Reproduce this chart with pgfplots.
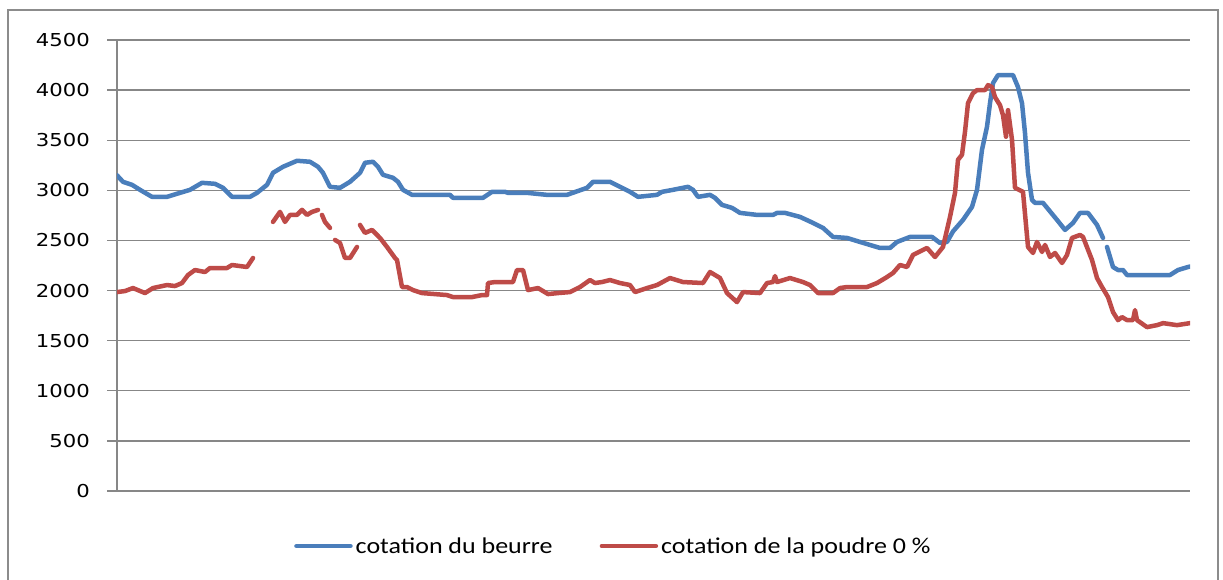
\documentclass[border=0pt]{standalone}
\usepackage{fontspec}
\usepackage{pgfplots}
\pgfplotsset{compat=1.18}
\newfontfamily\tickfont[FakeStretch=1.19]{DejaVu Sans}
\newfontfamily\legfont[FakeStretch=1.15]{Carlito}
\definecolor{beurre}{HTML}{4A7EBB}
\definecolor{poudre}{HTML}{BE4B48}
\definecolor{gridgray}{HTML}{878787}
\definecolor{framegray}{HTML}{8C8C8C}

\begin{document}
\begin{tikzpicture}[x=1pt,y=1pt]
\useasboundingbox (0,0) rectangle (1223,579);
\draw[framegray, line width=2.5pt] (8,-20) rectangle (1218,569);
\begin{axis}[
    at={(117pt,88pt)}, anchor=south west,
    scale only axis,
    width=1073pt, height=451pt,
    xmin=117, xmax=1190,
    ymin=0, ymax=4500,
    ytick={0,500,...,4500},
    xtick=\empty,
    axis x line*=bottom,
    axis y line*=left,
    axis line style={gridgray, line width=1.3pt, -},
    ymajorgrids,
    grid style={gridgray, line width=1.3pt},
    major tick length=10pt,
    tick align=outside,
    tick style={gridgray, line width=1.3pt},
    yticklabel style={font=\fontsize{17.8}{20}\tickfont, anchor=east, inner sep=0pt, xshift=-17pt},
    /pgf/number format/.cd, 1000 sep={}, assume math mode=true, /pgfplots/.cd,
    unbounded coords=jump,
    legend columns=2,
    legend style={at={(axis description cs:0.165,-0.122)}, anchor=west,
        draw=none, fill=none, inner sep=0pt,
        font=\fontsize{22.6}{26}\legfont,
        nodes={inner sep=3pt},
        /tikz/every even column/.append style={column sep=44pt}},
    legend image code/.code={\draw[#1] (0pt,0pt) -- (54pt,0pt);},
    every axis plot/.append style={line width=4.5pt, line cap=round, line join=round},
]
\addplot[beurre] coordinates {
(117,3150) (123,3085) (132,3055) (140,3005) (152,2935) (167,2935) (180,2975)
(190,3005) (202,3075) (215,3065) (223,3025) (232,2935) (250,2935) (257,2975)
(267,3055) (273,3175) (283,3235) (297,3295) (310,3285) (318,3235) (323,3175)
(330,3035) (340,3025) (350,3085) (360,3175) (365,3275) (373,3285) (378,3235)
(383,3155) (393,3125) (398,3085) (403,3005) (412,2955) (450,2955) (453,2925)
(483,2925) (492,2985) (505,2985) (508,2975) (527,2975) (547,2955) (567,2955)
(587,3025) (593,3085) (610,3085) (620,3035) (630,2985) (638,2935) (657,2955)
(662,2985) (673,3005) (688,3035) (693,3005) (698,2935) (710,2955) (715,2925)
(722,2855) (732,2825) (740,2775) (757,2755) (773,2755) (777,2775) (785,2775)
(800,2735) (813,2675) (823,2625) (833,2535) (847,2525) (860,2485) (880,2425)
(890,2425) (897,2485) (910,2535) (932,2535) (940,2475) (947,2485) (953,2590)
(963,2705) (972,2835) (977,3005) (982,3405) (987,3635) (990,3870) (993,4070)
(998,4150) (1013,4150) (1018,4030) (1022,3870) (1025,3570) (1028,3175)
(1032,2905) (1035,2875) (1043,2875) (1057,2705) (1065,2605) (1073,2675)
(1080,2775) (1088,2775) (1097,2655) (1103,2525) (1105,nan) (1107,2435)
(1113,2235) (1118,2205) (1123,2205) (1127,2155) (1170,2155) (1178,2205)
(1188,2235) (1190,2240)
};
\addlegendentry{cotation du beurre}
\addplot[poudre] coordinates {
(117,1985) (125,1995) (133,2025) (145,1975) (153,2025) (167,2055) (175,2045)
(182,2075) (188,2155) (195,2205) (205,2185) (210,2225) (227,2225) (232,2255)
(247,2235) (253,2325) (260,nan)
(273,2685) (280,2785) (285,2685) (290,2755) (297,2755) (302,2805) (307,2755)
(312,2785) (318,2805) (320,nan)
(322,2755) (325,2685) (330,2625) (332,nan)
(335,2505) (340,2475) (345,2325) (350,2325) (357,2435) (358,nan)
(360,2655) (365,2575) (372,2605) (380,2525) (387,2435) (395,2325) (397,2305)
(402,2035) (407,2035) (413,2005) (422,1975) (447,1955) (453,1935) (472,1935)
(482,1955) (487,1955) (488,2075) (495,2085) (513,2085) (517,2205) (523,2205)
(528,2005) (538,2025) (548,1965) (558,1975) (570,1985) (580,2035) (590,2105)
(595,2075) (602,2085) (610,2105) (620,2075) (630,2055) (635,1985) (647,2025)
(657,2055) (670,2125) (683,2085) (703,2075) (710,2185) (720,2125) (727,1975)
(737,1885) (743,1985) (760,1975) (767,2075) (773,2085) (775,2145) (777,2085)
(790,2125) (803,2085) (810,2055) (818,1975) (833,1975) (840,2025) (847,2035)
(867,2035) (877,2075) (887,2135) (893,2175) (900,2255) (907,2235) (913,2355)
(923,2405) (927,2425) (935,2335) (943,2435) (950,2735) (955,2975) (958,3305)
(962,3355) (965,3585) (968,3870) (973,3970) (977,4000) (985,4000) (988,4050)
(992,4030) (995,3930) (1000,3850) (1003,3750) (1006,3535) (1008,3800)
(1012,3505) (1015,3025) (1023,2985) (1028,2435) (1033,2375) (1037,2485)
(1042,2385) (1045,2455) (1050,2335) (1055,2375) (1062,2275) (1067,2355)
(1072,2525) (1080,2555) (1083,2535) (1092,2305) (1097,2125) (1102,2035)
(1108,1935) (1113,1785) (1118,1705) (1122,1735) (1127,1705) (1133,1705)
(1135,1805) (1137,1705) (1147,1635) (1157,1655) (1163,1675) (1177,1655)
(1190,1675)
};
\addlegendentry{cotation de la poudre 0 \%}
\end{axis}
\end{tikzpicture}
\end{document}
